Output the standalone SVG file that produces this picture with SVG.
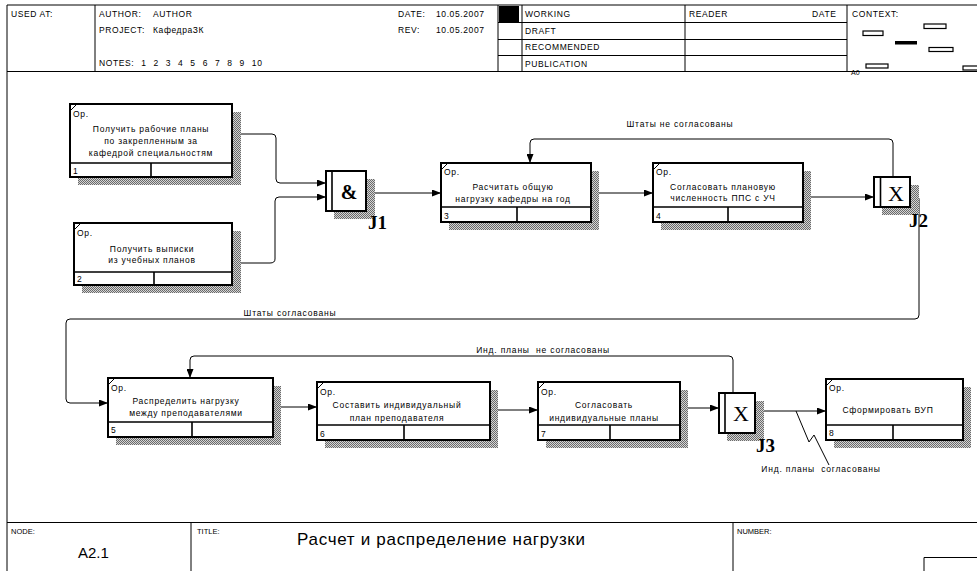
<svg xmlns="http://www.w3.org/2000/svg" width="977" height="571" viewBox="0 0 977 571">
<style>
.frm{fill:none;stroke:#000;stroke-width:1}
.hd{font-family:"Liberation Sans",Arial,sans-serif;font-size:8.5px;letter-spacing:0.6px;fill:#000;white-space:pre}
.ft{font-family:"Liberation Sans",Arial,sans-serif;font-size:8px;fill:#000}
.bx{fill:#fff;stroke:#000;stroke-width:2}
.sh{fill:url(#hatch)}
.ln{stroke:#000;stroke-width:1.6;fill:none}
.tk{stroke:#000;stroke-width:1;fill:none}
.bt{font-family:"Liberation Sans",Arial,sans-serif;font-size:8.5px;letter-spacing:0.7px;fill:#000}
.bc{font-family:"Liberation Sans",Arial,sans-serif;font-size:8.5px;letter-spacing:0.75px;fill:#000;text-anchor:middle}
.cn{fill:none;stroke:#000;stroke-width:1}
.ar{marker-end:url(#arr)}
.lb{font-family:"Liberation Sans",Arial,sans-serif;font-size:8.5px;letter-spacing:0.8px;fill:#000;text-anchor:middle;white-space:pre}
.jl{font-family:"Liberation Serif","Times New Roman",serif;font-size:19px;font-weight:bold;fill:#000}
.js{font-family:"Liberation Serif","Times New Roman",serif;font-size:22px;fill:#000;text-anchor:middle}
.ctx{fill:#fff;stroke:#000;stroke-width:1.2}
</style>
<defs>
<pattern id="hatch" width="2" height="2" patternUnits="userSpaceOnUse"><rect width="2" height="2" fill="#d4d4d4"/><rect width="1" height="1" fill="#6a6a6a"/><rect x="1" y="1" width="1" height="1" fill="#6a6a6a"/></pattern>
<marker id="arr" viewBox="0 0 9 7" refX="9" refY="3.5" markerWidth="9" markerHeight="7" markerUnits="userSpaceOnUse" orient="auto"><path d="M0,0 L9,3.5 L0,7 z" fill="#000"/></marker>
</defs>
<rect width="977" height="571" fill="#fff"/>
<g id="frame">
<path class="frm" d="M7,571 V5 H977"/>
<path class="frm" d="M7,71.5 H977"/>
<path class="frm" d="M95,5 V71 M498,5 V71 M522,5 V71 M685,5 V71 M847,5 V71"/>
<path class="frm" d="M498,22.5 H847 M498,39.5 H847 M498,55.5 H847"/>
<rect x="499" y="6" width="20" height="16" fill="#000"/>
<text class="hd" x="11" y="17">USED AT:</text>
<text class="hd" x="99" y="17">AUTHOR:</text>
<text class="hd" x="153" y="17">AUTHOR</text>
<text class="hd" x="99" y="33">PROJECT:</text>
<text class="hd" x="153" y="33">КафедраЗК</text>
<text class="hd" x="99" y="66" style="word-spacing:4px">NOTES: 1 2 3 4 5 6 7 8 9 10</text>
<text class="hd" x="398" y="17">DATE:</text>
<text class="hd" x="436" y="17">10.05.2007</text>
<text class="hd" x="398" y="33">REV:</text>
<text class="hd" x="436" y="33">10.05.2007</text>
<text class="hd" x="525" y="17">WORKING</text>
<text class="hd" x="525" y="34">DRAFT</text>
<text class="hd" x="525" y="50">RECOMMENDED</text>
<text class="hd" x="525" y="67">PUBLICATION</text>
<text class="hd" x="689" y="17">READER</text>
<text class="hd" x="812" y="17">DATE</text>
<text class="hd" x="852" y="17">CONTEXT:</text>
<rect class="ctx" x="863" y="31" width="20" height="4.5"/>
<rect class="ctx" x="924" y="24" width="22" height="4.5"/>
<rect x="895" y="41" width="22" height="3.5" fill="#000"/>
<rect class="ctx" x="929" y="47.5" width="24" height="4"/>
<rect class="ctx" x="866" y="64" width="22" height="4"/>
<rect class="ctx" x="963" y="66" width="16" height="4"/>
<text class="hd" x="851" y="75" style="font-size:7px;letter-spacing:0">A0</text>
<path class="frm" d="M7,522.5 H977 M191,522 V571 M733,522 V571"/>
<path class="frm" d="M924,571 V557.5 H977"/>
<text class="ft" x="11" y="534" style="font-size:7.5px">NODE:</text>
<text class="ft" x="197" y="534" style="font-size:7.5px">TITLE:</text>
<text class="ft" x="737" y="534" style="font-size:7.5px">NUMBER:</text>
<text class="ft" x="78" y="558" style="font-size:15px">A2.1</text>
<text class="ft" x="297" y="545" style="font-size:17px" textLength="288">Расчет и распределение нагрузки</text>
</g>
<g id="connectors">
<path class="cn ar" d="M232,134 H272 Q276,134 276,138 V179 Q276,183 280,183 H326"/>
<path class="cn ar" d="M232,263 H270 Q275,263 275,259 V201 Q275,197 279,197 H326"/>
<path class="cn ar" d="M366,193 H441"/>
<path class="cn ar" d="M591,193 H653"/>
<path class="cn ar" d="M803,197 H874"/>
<path class="cn ar" d="M893,177 V143 Q893,139 889,139 H534 Q530,139 530,143 V163"/>
<path class="cn ar" d="M910,195 H915 Q919,195 919,199 V315 Q919,319 915,319 H70 Q66,319 66,323 V399 Q66,403 70,403 H108"/>
<path class="cn ar" d="M273,407 H317"/>
<path class="cn ar" d="M490,410 H538"/>
<path class="cn ar" d="M680,408 H719"/>
<path class="cn ar" d="M733,393 V360 Q733,356 729,356 H194 Q190,356 190,360 V378"/>
<path class="cn ar" d="M755,411 H826"/>
<path class="cn" d="M796,411 L809,442 L814,435 L829,465"/>
<text class="lb" x="680" y="127">Штаты не согласованы</text>
<text class="lb" x="290" y="316">Штаты согласованы</text>
<text class="lb" x="543" y="353">Инд. планы  не согласованы</text>
<text class="lb" x="821" y="472">Инд. планы  согласованы</text>
</g>
<g id="box1">
<rect class="sh" x="78" y="112" width="163" height="73"/>
<rect class="bx" x="70" y="104" width="162" height="73"/>
<path class="ln" d="M70,163 H232 M151,163 V177"/>
<path class="tk" d="M70,111 L77,104"/>
<text class="bt" x="73" y="117">Ор.</text>
<text class="bc" x="151" y="132">Получить рабочие планы</text>
<text class="bc" x="151" y="144">по закрепленным за</text>
<text class="bc" x="151" y="156">кафедрой специальностям</text>
<text class="bt" x="73" y="174">1</text>
</g>
<g id="box2">
<rect class="sh" x="82" y="231" width="159" height="62"/>
<rect class="bx" x="74" y="223" width="158" height="62"/>
<path class="ln" d="M74,272 H232 M154,272 V285"/>
<path class="tk" d="M74,230 L81,223"/>
<text class="bt" x="77" y="236">Ор.</text>
<text class="bc" x="152" y="252">Получить выписки</text>
<text class="bc" x="152" y="263">из учебных планов</text>
<text class="bt" x="77" y="282">2</text>
</g>
<g id="J1">
<rect class="sh" x="334" y="179" width="41" height="40"/>
<rect class="bx" x="326" y="171" width="40" height="40"/>
<path class="ln" d="M332,171 V211"/>
<text class="js" x="349" y="199" style="font-weight:bold;font-size:20px">&amp;</text>
<text class="jl" x="368" y="229">J1</text>
</g>
<g id="box3">
<rect class="sh" x="449" y="171" width="150" height="59"/>
<rect class="bx" x="441" y="163" width="150" height="59"/>
<path class="ln" d="M441,207 H591 M517,207 V222"/>
<path class="tk" d="M441,170 L448,163"/>
<text class="bt" x="444" y="175">Ор.</text>
<text class="bc" x="513" y="190">Расчитать общую</text>
<text class="bc" x="513" y="202">нагрузку кафедры на год</text>
<text class="bt" x="444" y="219">3</text>
</g>
<g id="box4">
<rect class="sh" x="661" y="171" width="150" height="59"/>
<rect class="bx" x="653" y="163" width="150" height="59"/>
<path class="ln" d="M653,207 H803 M728,207 V222"/>
<path class="tk" d="M653,170 L660,163"/>
<text class="bt" x="656" y="175">Ор.</text>
<text class="bc" x="723" y="190">Согласовать плановую</text>
<text class="bc" x="723" y="201">численность ППС с УЧ</text>
<text class="bt" x="656" y="219">4</text>
</g>
<g id="J2">
<rect class="sh" x="882" y="185" width="37" height="30"/>
<rect class="bx" x="874" y="177" width="36" height="30"/>
<path class="ln" d="M880.5,177 V207"/>
<text class="js" x="896" y="201">X</text>
<text class="jl" x="909" y="227">J2</text>
</g>
<g id="box5">
<rect class="sh" x="116" y="386" width="165" height="59"/>
<rect class="bx" x="108" y="378" width="165" height="59"/>
<path class="ln" d="M108,422 H273 M192,422 V437"/>
<path class="tk" d="M108,385 L115,378"/>
<text class="bt" x="111" y="391">Ор.</text>
<text class="bc" x="186" y="404">Распределить нагрузку</text>
<text class="bc" x="186" y="416">между преподавателями</text>
<text class="bt" x="111" y="433">5</text>
</g>
<g id="box6">
<rect class="sh" x="325" y="390" width="173" height="58"/>
<rect class="bx" x="317" y="382" width="173" height="58"/>
<path class="ln" d="M317,425 H490 M404,425 V440"/>
<path class="tk" d="M317,389 L324,382"/>
<text class="bt" x="320" y="395">Ор.</text>
<text class="bc" x="397" y="408">Составить индивидуальный</text>
<text class="bc" x="397" y="421">план преподавателя</text>
<text class="bt" x="320" y="437">6</text>
</g>
<g id="box7">
<rect class="sh" x="546" y="390" width="142" height="58"/>
<rect class="bx" x="538" y="382" width="142" height="58"/>
<path class="ln" d="M538,425 H680 M610,425 V440"/>
<path class="tk" d="M538,389 L545,382"/>
<text class="bt" x="541" y="395">Ор.</text>
<text class="bc" x="604" y="408">Согласовать</text>
<text class="bc" x="604" y="421">индивидуальные планы</text>
<text class="bt" x="541" y="437">7</text>
</g>
<g id="J3">
<rect class="sh" x="727" y="401" width="37" height="40"/>
<rect class="bx" x="719" y="393" width="36" height="40"/>
<path class="ln" d="M725,393 V433"/>
<text class="js" x="741" y="421">X</text>
<text class="jl" x="756" y="452">J3</text>
</g>
<g id="box8">
<rect class="sh" x="834" y="387" width="137" height="61"/>
<rect class="bx" x="826" y="379" width="137" height="61"/>
<path class="ln" d="M826,425 H963 M893,425 V440"/>
<path class="tk" d="M826,386 L833,379"/>
<text class="bt" x="829" y="391">Ор.</text>
<text class="bc" x="888" y="413">Сформировать ВУП</text>
<text class="bt" x="829" y="436">8</text>
</g>
</svg>
